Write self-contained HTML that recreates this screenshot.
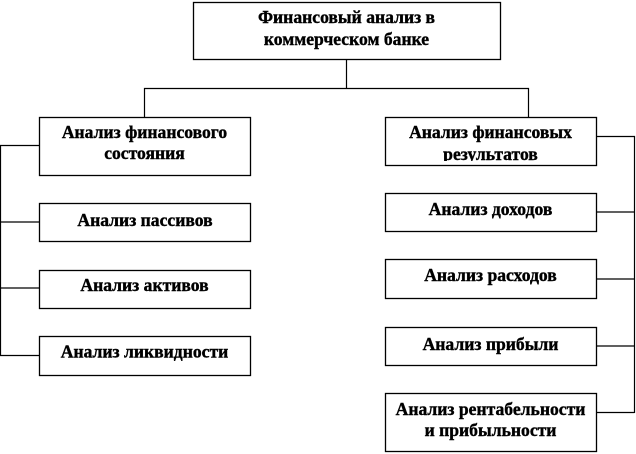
<!DOCTYPE html>
<html lang="ru">
<head>
<meta charset="utf-8">
<style>
html,body{margin:0;padding:0;background:#fff;width:636px;height:454px;overflow:hidden}
svg{display:block}
text{font-family:"Liberation Serif","DejaVu Serif",serif;font-weight:bold;font-size:17.6px;fill:#000;stroke:#000;stroke-width:.4px;text-anchor:middle}
rect.b{fill:#fff;stroke:#000;stroke-width:1.3}
path{fill:none;stroke:#000;stroke-width:1.2}
</style>
</head>
<body>
<svg width="636" height="454" viewBox="0 0 636 454" xmlns="http://www.w3.org/2000/svg">
<defs><clipPath id="c"><rect x="386" y="118" width="210" height="43"/></clipPath></defs>
<path d="M346.5 59V88.5M144.5 117V88.5H528.5V117"/>
<path d="M39 145.5H0.5V355.5H39M0.5 222H39M0.5 288H39"/>
<path d="M596 136.5H634.5V413M596 212H634.5M596 279H634.5M596 346H634.5M596 412.5H634.5"/>
<rect class="b" x="193.5" y="2.5" width="307" height="57"/>
<rect class="b" x="39.5" y="117.5" width="211" height="58"/>
<rect class="b" x="39.5" y="203.5" width="211" height="38"/>
<rect class="b" x="39.5" y="270.5" width="211" height="38"/>
<rect class="b" x="39.5" y="336.5" width="211" height="39"/>
<rect class="b" x="385.5" y="117.5" width="211" height="48"/>
<rect class="b" x="385.5" y="193.5" width="211" height="38"/>
<rect class="b" x="385.5" y="259.5" width="211" height="39"/>
<rect class="b" x="385.5" y="327.5" width="211" height="38"/>
<rect class="b" x="385.5" y="393.5" width="211" height="58"/>
<text x="346.5" y="23">Финансовый анализ в</text>
<text x="346.5" y="45">коммерческом банке</text>
<text x="144.5" y="138">Анализ финансового</text>
<text x="144.5" y="159">состояния</text>
<text x="145" y="226">Анализ пассивов</text>
<text x="144.5" y="291">Анализ активов</text>
<text x="144.5" y="357.5">Анализ ликвидности</text>
<text x="490.5" y="138">Анализ финансовых</text>
<g clip-path="url(#c)"><text x="490.5" y="160">результатов</text></g>
<text x="490.5" y="215">Анализ доходов</text>
<text x="490.5" y="281">Анализ расходов</text>
<text x="490.5" y="350">Анализ прибыли</text>
<text x="490.5" y="415">Анализ рентабельности</text>
<text x="490.5" y="436">и прибыльности</text>
</svg>
</body>
</html>
